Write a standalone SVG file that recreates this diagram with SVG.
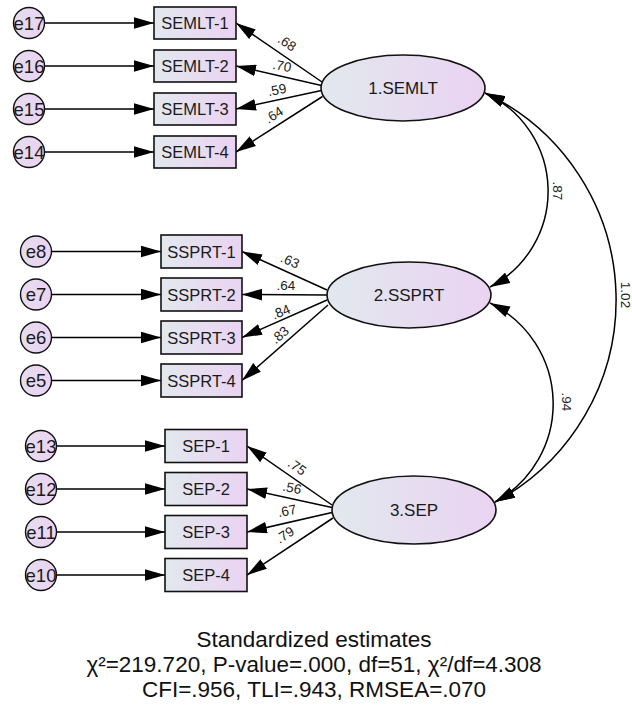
<svg xmlns="http://www.w3.org/2000/svg" width="632" height="708" viewBox="0 0 632 708">
<style>
.obs{stroke:#111;stroke-width:1.6;fill:url(#g)}
.lat{stroke:#111;stroke-width:1.6;fill:url(#g)}
.err{stroke:#111;stroke-width:1.4;fill:url(#ge)}
.t{font-family:"Liberation Sans",Arial,sans-serif;fill:#1a1a1a;text-anchor:middle;dominant-baseline:central}
.ot{font-size:16.5px}
.lt{font-size:17px}
.et{font-size:18.5px}
.lab{font-family:"Liberation Sans",Arial,sans-serif;font-size:13.5px;fill:#222;text-anchor:middle;dominant-baseline:central}
.c{stroke:#000;stroke-width:1.5;fill:none;marker-end:url(#ah)}
.cv{stroke:#000;stroke-width:1.5;fill:none;marker-start:url(#ah);marker-end:url(#ah)}
.foot{font-family:"Liberation Sans",Arial,sans-serif;font-size:22.5px;fill:#111;text-anchor:middle}
</style>
<defs>
<linearGradient id="g" x1="0" y1="0" x2="1" y2="0">
<stop offset="0" stop-color="#e2e8ee"/>
<stop offset="1" stop-color="#ead3f2"/>
</linearGradient>
<linearGradient id="ge" x1="0" y1="0" x2="1" y2="0">
<stop offset="0" stop-color="#e6dcef"/>
<stop offset="1" stop-color="#ead3f2"/>
</linearGradient>
<marker id="ah" markerUnits="userSpaceOnUse" markerWidth="20" markerHeight="12" viewBox="0 0 19 11" refX="19" refY="5.5" orient="auto-start-reverse">
<path d="M0,0 L19,5.5 L0,11 z" fill="#000"/>
</marker>
</defs>

<g id="connectors">
<path class="c" d="M44.5,23 H154"/>
<path class="c" d="M44.5,66 H154"/>
<path class="c" d="M44.5,109 H154"/>
<path class="c" d="M44.5,152 H154"/>
<path class="c" d="M51.5,251.5 H161"/>
<path class="c" d="M51.5,294.5 H161"/>
<path class="c" d="M51.5,337.5 H161"/>
<path class="c" d="M51.5,380.5 H161"/>
<path class="c" d="M56.5,446 H165"/>
<path class="c" d="M56.5,489 H165"/>
<path class="c" d="M56.5,532 H165"/>
<path class="c" d="M56.5,575 H165"/>
<path class="c" d="M322,82 L236,23"/>
<path class="c" d="M321.5,85.5 L236,66"/>
<path class="c" d="M321.5,90.5 L236,109"/>
<path class="c" d="M322.5,96.5 L236,152"/>
<path class="c" d="M327,290 L242,251.5"/>
<path class="c" d="M327,295 L242,294.5"/>
<path class="c" d="M327,300 L242,337.5"/>
<path class="c" d="M328,305 L242,380.5"/>
<path class="c" d="M332,505 L247,446"/>
<path class="c" d="M332,507.5 L247,489"/>
<path class="c" d="M332,512.5 L247,532"/>
<path class="c" d="M333,518 L247,575"/>
<path class="cv" d="M485,93 A108,108 0 0 1 490,287"/>
<path class="cv" d="M490,303 A112,112 0 0 1 495,502"/>
<path class="cv" d="M485,93 A229,229 0 0 1 495,502"/>
<text class="lab" transform="translate(287,43) rotate(34)">.68</text>
<text class="lab" transform="translate(282,66) rotate(11)">.70</text>
<text class="lab" transform="translate(277,90) rotate(-11)">.59</text>
<text class="lab" transform="translate(274,115) rotate(-33)">.64</text>
<text class="lab" transform="translate(290,261) rotate(24)">.63</text>
<text class="lab" transform="translate(286,285)">.64</text>
<text class="lab" transform="translate(281,312) rotate(-23)">.84</text>
<text class="lab" transform="translate(280,335) rotate(-41)">.83</text>
<text class="lab" transform="translate(297,467) rotate(35)">.75</text>
<text class="lab" transform="translate(292,488) rotate(12)">.56</text>
<text class="lab" transform="translate(287,511) rotate(-11)">.67</text>
<text class="lab" transform="translate(285,535) rotate(-33)">.79</text>
<text class="lab" transform="translate(557,191) rotate(90)">.87</text>
<text class="lab" transform="translate(566,402) rotate(90)">.94</text>
<text class="lab" transform="translate(625,295) rotate(90)">1.02</text>
</g>

<g id="e17"><circle class="err" cx="29" cy="23" r="15.5"/><text class="t et" x="29" y="23">e17</text></g>
<g id="e16"><circle class="err" cx="29" cy="66" r="15.5"/><text class="t et" x="29" y="66">e16</text></g>
<g id="e15"><circle class="err" cx="29" cy="109" r="15.5"/><text class="t et" x="29" y="109">e15</text></g>
<g id="e14"><circle class="err" cx="29" cy="152" r="15.5"/><text class="t et" x="29" y="152">e14</text></g>
<g id="e8"><circle class="err" cx="36" cy="251.5" r="15.5"/><text class="t et" x="36" y="251.5">e8</text></g>
<g id="e7"><circle class="err" cx="36" cy="294.5" r="15.5"/><text class="t et" x="36" y="294.5">e7</text></g>
<g id="e6"><circle class="err" cx="36" cy="337.5" r="15.5"/><text class="t et" x="36" y="337.5">e6</text></g>
<g id="e5"><circle class="err" cx="36" cy="380.5" r="15.5"/><text class="t et" x="36" y="380.5">e5</text></g>
<g id="e13"><circle class="err" cx="41" cy="446" r="15.5"/><text class="t et" x="41" y="446">e13</text></g>
<g id="e12"><circle class="err" cx="41" cy="489" r="15.5"/><text class="t et" x="41" y="489">e12</text></g>
<g id="e11"><circle class="err" cx="41" cy="532" r="15.5"/><text class="t et" x="41" y="532">e11</text></g>
<g id="e10"><circle class="err" cx="41" cy="575" r="15.5"/><text class="t et" x="41" y="575">e10</text></g>

<g id="SEMLT-1"><rect class="obs" x="154" y="7" width="82" height="32"/><text class="t ot" x="195" y="23">SEMLT-1</text></g>
<g id="SEMLT-2"><rect class="obs" x="154" y="50" width="82" height="32"/><text class="t ot" x="195" y="66">SEMLT-2</text></g>
<g id="SEMLT-3"><rect class="obs" x="154" y="93" width="82" height="32"/><text class="t ot" x="195" y="109">SEMLT-3</text></g>
<g id="SEMLT-4"><rect class="obs" x="154" y="136" width="82" height="32"/><text class="t ot" x="195" y="152">SEMLT-4</text></g>
<g id="SSPRT-1"><rect class="obs" x="161" y="235" width="81" height="33"/><text class="t ot" x="201.5" y="251.5">SSPRT-1</text></g>
<g id="SSPRT-2"><rect class="obs" x="161" y="278" width="81" height="33"/><text class="t ot" x="201.5" y="294.5">SSPRT-2</text></g>
<g id="SSPRT-3"><rect class="obs" x="161" y="321" width="81" height="33"/><text class="t ot" x="201.5" y="337.5">SSPRT-3</text></g>
<g id="SSPRT-4"><rect class="obs" x="161" y="364" width="81" height="33"/><text class="t ot" x="201.5" y="380.5">SSPRT-4</text></g>
<g id="SEP-1"><rect class="obs" x="165" y="429.5" width="82" height="33"/><text class="t ot" x="206" y="446">SEP-1</text></g>
<g id="SEP-2"><rect class="obs" x="165" y="472.5" width="82" height="33"/><text class="t ot" x="206" y="489">SEP-2</text></g>
<g id="SEP-3"><rect class="obs" x="165" y="515.5" width="82" height="33"/><text class="t ot" x="206" y="532">SEP-3</text></g>
<g id="SEP-4"><rect class="obs" x="165" y="558.5" width="82" height="33"/><text class="t ot" x="206" y="575">SEP-4</text></g>

<g id="F1"><ellipse class="lat" cx="403" cy="88" rx="82" ry="33"/><text class="t lt" x="403" y="88">1.SEMLT</text></g>
<g id="F2"><ellipse class="lat" cx="409" cy="295" rx="82" ry="33"/><text class="t lt" x="409" y="295">2.SSPRT</text></g>
<g id="F3"><ellipse class="lat" cx="414" cy="510" rx="82" ry="34"/><text class="t lt" x="414" y="510">3.SEP</text></g>

<g id="footer">
<text class="foot" x="314" y="647">Standardized estimates</text>
<text class="foot" x="314" y="672">χ²=219.720, P-value=.000, df=51, χ²/df=4.308</text>
<text class="foot" x="314" y="697">CFI=.956, TLI=.943, RMSEA=.070</text>
</g>
</svg>
